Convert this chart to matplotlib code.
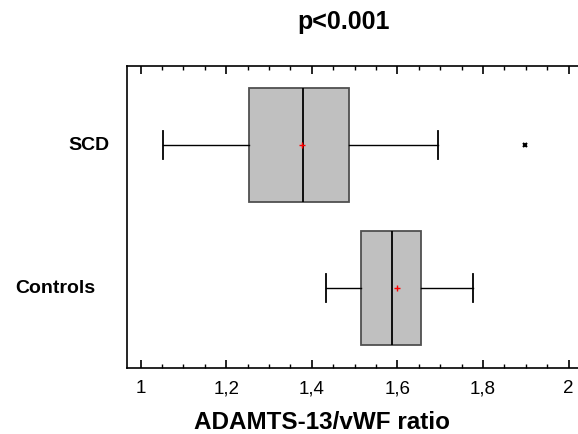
import matplotlib
matplotlib.use("Agg")
import matplotlib.pyplot as plt
from matplotlib.ticker import MultipleLocator, FixedFormatter, FixedLocator
from matplotlib.transforms import blended_transform_factory

# Values
groups = ['Controls', 'SCD']
positions = [1, 2]
whisker_low = [1.433, 1.052]
q1 = [1.515, 1.253]
median = [1.588, 1.380]
q3 = [1.654, 1.487]
whisker_high = [1.777, 1.695]
means = [1.599, 1.377]
outliers = [[], [1.897]]

x_ticks = [1.0, 1.2, 1.4, 1.6, 1.8, 2.0]
x_tick_labels = ['1', '1,2', '1,4', '1,6', '1,8', '2']

plt.rcParams['font.family'] = ['Liberation Sans', 'DejaVu Sans']

fig = plt.figure(figsize=(5.78, 4.34), dpi=100)
ax = fig.add_axes([0.2197, 0.1528, 0.7803, 0.6962])

stats = []
for i in range(len(groups)):
    stats.append({
        'whislo': whisker_low[i], 'q1': q1[i], 'med': median[i],
        'q3': q3[i], 'whishi': whisker_high[i], 'mean': means[i],
        'fliers': outliers[i], 'label': groups[i],
    })

ax.bxp(stats, positions=positions, vert=False, widths=0.8, patch_artist=True,
       showmeans=True, showfliers=True,
       boxprops=dict(facecolor='#c0c0c0', edgecolor='#505050', linewidth=1.3),
       medianprops=dict(color='black', linewidth=1.3),
       whiskerprops=dict(color='black', linewidth=1.0),
       capprops=dict(color='black', linewidth=1.3),
       capwidths=0.2,
       meanprops=dict(marker='+', markeredgecolor='red', markersize=5, markeredgewidth=1.0),
       flierprops=dict(marker='x', markeredgecolor='black', markersize=3.5, markeredgewidth=1.5))

ax.set_xlim(0.968, 2.022)
ax.set_ylim(0.443, 2.556)

ax.xaxis.set_major_locator(FixedLocator(x_ticks))
ax.xaxis.set_major_formatter(FixedFormatter(x_tick_labels))
ax.xaxis.set_minor_locator(MultipleLocator(0.05))
ax.tick_params(axis='x', which='both', direction='in', top=True, bottom=True,
               labelsize=13.5, pad=9)
ax.tick_params(axis='x', which='major', length=6, width=1.2)
ax.tick_params(axis='x', which='minor', length=3, width=1.0)

ax.set_yticks(positions)
ax.set_yticklabels([])
ax.tick_params(axis='y', length=0)

# group names sit at uneven x offsets in the original
label_x = [0.026, 0.118]
trans = blended_transform_factory(fig.transFigure, ax.transData)
for i, g in enumerate(groups):
    ax.text(label_x[i], positions[i], g, transform=trans,
            ha='left', va='center', fontsize=14, fontweight='bold')

for side in ['left', 'top', 'bottom']:
    ax.spines[side].set_linewidth(1.2)
    ax.spines[side].set_color('black')
ax.spines['right'].set_visible(False)

ax.set_xlabel('ADAMTS-13/vWF ratio', fontsize=17.5, fontweight='bold')
ax.xaxis.set_label_coords(0.432, -0.142)
fig.text(0.595, 0.949, 'p<0.001', ha='center', va='center', fontsize=18, fontweight='bold')

fig.savefig('out.png', dpi=100)
